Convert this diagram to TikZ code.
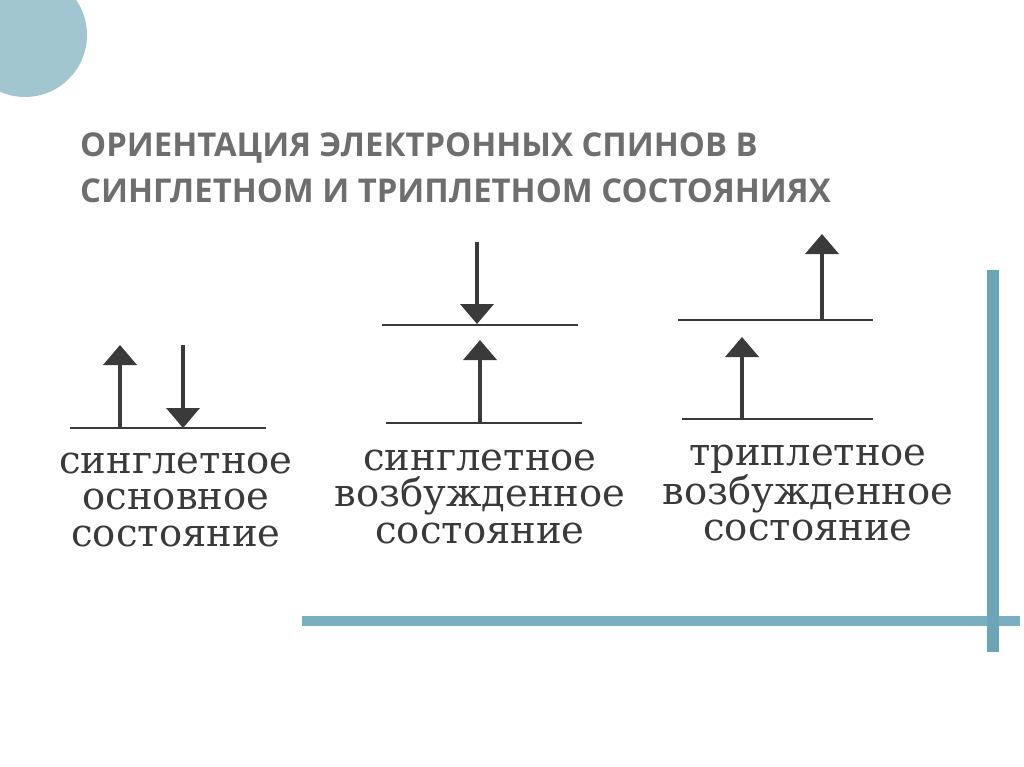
\documentclass[tikz,border=0pt]{standalone}
\usepackage{fontspec}
\usetikzlibrary{arrows.meta}
\newfontfamily\titlefont{Open Sans}
\newfontfamily\labelfont{DejaVu Serif}
\definecolor{deco}{RGB}{162,198,208}
\definecolor{frameline}{RGB}{106,166,184}
\definecolor{titlegray}{RGB}{110,110,110}
\definecolor{ink}{RGB}{58,58,58}
\tikzset{
  level/.style={line width=2.5pt, draw=ink},
  spin/.style={line width=4pt, draw=ink, -{Triangle[length=20pt,width=33pt]}},
  statelabel/.style={align=center, text=ink, font=\labelfont\fontsize{38.5}{36.5}\selectfont},
  titleline/.style={anchor=base west, text=titlegray, inner sep=0pt,
    font=\titlefont\bfseries\fontsize{32.8}{40}\selectfont}
}

\begin{document}
\begin{tikzpicture}[x=1pt, y=-1pt]
\useasboundingbox (0,0) rectangle (1024,767);
% --- decorative disc and frame lines ---
\begin{scope}
  \clip (0,0) rectangle (1024,767);
  \fill[deco] (25,35) circle (62);
\end{scope}
\draw[line width=12pt, frameline] (993,270) -- (993,652);
\draw[line width=10pt, frameline, opacity=0.9] (302,621) -- (1020,621);
% --- title ---
\node[titleline] (title1) at (80,157) {ОРИЕНТАЦИЯ ЭЛЕКТРОННЫХ СПИНОВ В};
\node[titleline] (title2) at (80,203) {СИНГЛЕТНОМ И ТРИПЛЕТНОМ СОСТОЯНИЯХ};
% --- singlet ground state ---
\draw[level] (70,428) -- (266,428);
\draw[spin] (120,428) -- (120,345);
\draw[spin] (183,345) -- (183,428);
\node[statelabel] (gs) at (176,500) {синглетное\\основное\\состояние};
% --- singlet excited state ---
\draw[level] (382,325) -- (578,325);
\draw[level] (386,423) -- (582,423);
\draw[spin] (477,242) -- (477,324);
\draw[spin] (480,423) -- (480,340);
\node[statelabel] (se) at (480,497) {синглетное\\возбужденное\\состояние};
% --- triplet excited state ---
\draw[level] (678,320) -- (873,320);
\draw[level] (682,419) -- (873,419);
\draw[spin] (822,320) -- (822,234);
\draw[spin] (742,419) -- (742,337);
\node[statelabel] (te) at (808,493) {триплетное\\возбужденное\\состояние};
\end{tikzpicture}
\end{document}
